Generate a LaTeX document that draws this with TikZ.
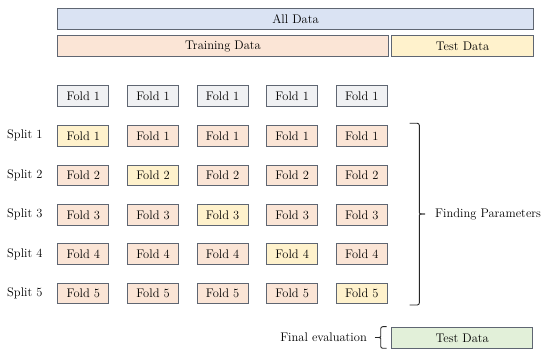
\documentclass[tikz,border=0pt]{standalone}
\definecolor{bordc}{HTML}{5F6672}
\definecolor{alld}{HTML}{DAE3F3}
\definecolor{traind}{HTML}{FBE5D6}
\definecolor{testd}{HTML}{FFF2CC}
\definecolor{foldg}{HTML}{F0F1F3}
\definecolor{evald}{HTML}{E2F0D9}
\begin{document}
\begin{tikzpicture}[x=1pt,y=-1pt,
  txt/.style={font=\fontsize{12.5}{15}\selectfont},
  bar/.style={txt,draw=bordc,line width=1pt,minimum height=21pt,inner sep=0pt},
  foldbox/.style={txt,draw=bordc,line width=1pt,minimum width=51pt,minimum height=20.5pt,inner sep=0pt},
  lbl/.style={txt,inner sep=0pt},
  brcline/.style={line width=0.9pt,draw=black!85,rounded corners=2pt}]
\useasboundingbox (0,0) rectangle (550,358);
\node[bar,fill=alld,minimum width=475.6pt] (all) at (295.5,19.2) {All Data};
\node[bar,fill=traind,minimum width=330.6pt] (train) at (223,46.4) {Training Data};
\node[bar,fill=testd,minimum width=141.6pt] (test) at (462.5,46.4) {Test Data};
\foreach \c [count=\i] in {83.3,153,222.6,292.2,361.8}{
  \node[foldbox,fill=foldg] (f0-\i) at (\c,96.2) {Fold 1};
}
\foreach \r/\y in {1/135.8,2/175.3,3/214.8,4/254.2,5/293.7}{
  \node[lbl,anchor=west] (s\r) at (7,\y) {Split \r};
  \foreach \c [count=\i] in {83.3,153,222.6,292.2,361.8}{
    \ifnum\i=\r
      \node[foldbox,fill=testd] (f\r-\i) at (\c,\y) {Fold \r};
    \else
      \node[foldbox,fill=traind] (f\r-\i) at (\c,\y) {Fold \r};
    \fi
  }
}
% big brace
\coordinate (bt) at (409.5,123.3);
\coordinate (btc) at (419.3,123.3);
\coordinate (bma) at (419.3,210.5);
\coordinate (btip) at (425,214);
\coordinate (bmb) at (419.3,217.5);
\coordinate (bbc) at (419.3,305);
\coordinate (bb) at (409.5,305);
\draw[brcline] (bt) -- (btc) -- (bma) .. controls (419.3,214) .. (btip);
\draw[brcline] (bb) -- (bbc) -- (bmb) .. controls (419.3,214) .. (btip);
\node[lbl,anchor=west] (fp) at (435,214) {Finding Parameters};
% final evaluation
\node[bar,fill=evald,minimum width=141pt,minimum height=21pt] (ev) at (462.2,337.8) {Test Data};
\coordinate (et) at (386.7,326.7);
\coordinate (etc) at (380.7,326.7);
\coordinate (ema) at (380.7,334.5);
\coordinate (etip) at (375,337.5);
\coordinate (emb) at (380.7,340.5);
\coordinate (ebc) at (380.7,348.3);
\coordinate (eb) at (386.7,348.3);
\draw[brcline] (et) -- (etc) -- (ema) .. controls (380.7,337.5) .. (etip);
\draw[brcline] (eb) -- (ebc) -- (emb) .. controls (380.7,337.5) .. (etip);
\node[lbl,anchor=east] (fe) at (367,337.5) {Final evaluation};
\end{tikzpicture}
\end{document}
